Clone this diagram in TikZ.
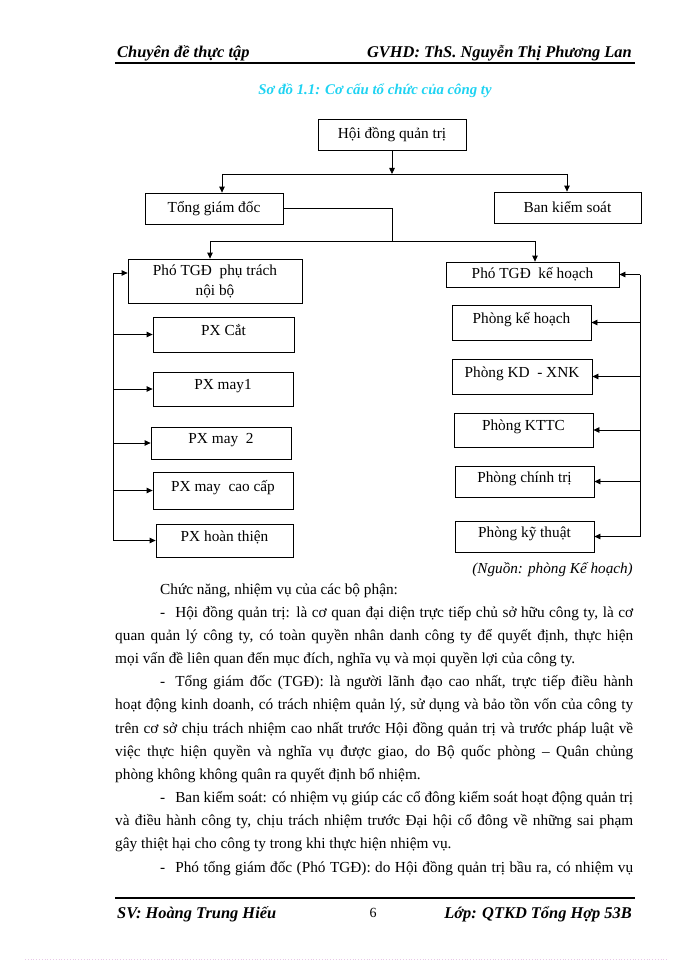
\documentclass[tikz,border=0pt]{standalone}
\usepackage{fontspec}
\setmainfont{Liberation Serif}
\usetikzlibrary{arrows.meta}
\definecolor{CaptionCyan}{HTML}{1FD3F2}
\definecolor{BreakPink}{HTML}{E8C8E8}

\newcommand{\boxfont}{\fontsize{15.3}{20}\selectfont}
\newcommand{\bodyfont}{\fontsize{15.3}{23}\selectfont}

\begin{document}
\begin{tikzpicture}[x=1pt, y=-1pt,
  orgbox/.style={draw=black, line width=0.8pt, inner sep=0pt, align=center, font=\boxfont},
  unitbox/.style={orgbox, text height=9pt, text depth=8pt},
  flow/.style={-{Triangle[length=6pt,width=5.5pt]}, line width=0.8pt},
  wire/.style={line width=0.8pt},
  headtext/.style={font=\fontsize{16.4}{18}\selectfont\bfseries\itshape, inner sep=0pt},
  bodyline/.style={font=\bodyfont, inner sep=0pt, anchor=base west}
]
\fill[white] (0,0) rectangle (700,960);
\useasboundingbox (0,0) rectangle (700,960);

% page header
\node[headtext, anchor=base west] (headL) at (117,58) {Chuyên đề thực tập};
\node[headtext, anchor=base east] (headR) at (632,58) {GVHD: ThS. Nguyễn Thị Phương Lan};
\draw[line width=1.1pt] (115,63) -- (635,63);
\node[font=\fontsize{14.8}{16}\selectfont\bfseries\itshape, text=CaptionCyan, anchor=base] (caption)
  at (375,95) {Sơ đồ 1.1: Cơ cấu tổ chức của công ty};

% top of the chart
\node[orgbox, minimum width=148pt, minimum height=31pt] (hdqt) at (392,134.5) {Hội đồng quản trị};
\node[orgbox, minimum width=138pt, minimum height=31pt] (tgd) at (214,208.5) {Tổng giám đốc};
\node[orgbox, minimum width=147pt, minimum height=31pt] (bks) at (567.5,207.5) {Ban kiểm soát};
\node[orgbox, minimum width=174pt, minimum height=44pt] (phont) at (215,281) {Phó TGĐ\ \ phụ trách\\nội bộ};
\node[orgbox, minimum width=173pt, minimum height=25pt] (phokh) at (532.5,274.5) {Phó TGĐ\ \ kế hoạch};

% workshops
\node[unitbox, minimum width=141pt, minimum height=35pt] (pxcat) at (223.5,334.5) {PX Cắt};
\node[unitbox, minimum width=140pt, minimum height=34pt] (pxmay1) at (223,389) {PX may1};
\node[unitbox, minimum width=140pt, minimum height=32pt] (pxmay2) at (221,443) {PX may\ \ 2};
\node[unitbox, minimum width=140pt, minimum height=37pt] (pxcc) at (223,490.5) {PX may\ \ cao cấp};
\node[unitbox, minimum width=137pt, minimum height=33pt] (pxht) at (224.5,540.5) {PX hoàn thiện};

% departments
\node[unitbox, minimum width=139pt, minimum height=35pt] (pkh) at (521.5,322.5) {Phòng kế hoạch};
\node[unitbox, minimum width=140pt, minimum height=35pt] (pkd) at (522,376.5) {Phòng KD\ \ - XNK};
\node[unitbox, minimum width=139pt, minimum height=34pt] (pkttc) at (523.5,430) {Phòng KTTC};
\node[unitbox, minimum width=139pt, minimum height=31pt] (pct) at (524.5,481.5) {Phòng chính trị};
\node[unitbox, minimum width=139pt, minimum height=31pt] (pkt) at (524.5,536.5) {Phòng kỹ thuật};

% connectors
\coordinate (busA) at (392,174);
\coordinate (busAl) at (222,174);
\coordinate (busAr) at (567,174);
\draw[flow] (hdqt) -- (busA);
\draw[wire] (busAl) -- (busAr);
\draw[flow] (busAl) -- (busAl |- tgd.north);
\draw[flow] (busAr) -- (busAr |- bks.north);

\coordinate (busB) at (392,241);
\coordinate (busBl) at (210,241);
\coordinate (busBr) at (535,241);
\draw[wire] (tgd.east) -| (busB);
\draw[wire] (busBl) -- (busBr);
\draw[flow] (busBl) -- (busBl |- phont.north);
\draw[flow] (busBr) -- (busBr |- phokh.north);

\coordinate (railL) at (113,273);
\coordinate (railLend) at (113,540.5);
\draw[wire] (railL) -- (railLend);
\draw[flow] (railL) -- (railL -| phont.west);
\foreach \b in {pxcat,pxmay1,pxmay2,pxcc,pxht}
  \draw[flow] (railL |- \b.west) -- (\b.west);

\coordinate (railR) at (640,274.5);
\coordinate (railRend) at (640,536.5);
\draw[wire] (railR) -- (railRend);
\foreach \b in {phokh,pkh,pkd,pkttc,pct,pkt}
  \draw[flow] (railR |- \b.east) -- (\b.east);

\node[font=\fontsize{15.2}{18}\selectfont\itshape, inner sep=0pt, anchor=base east] (source)
  at (633,573) {(Nguồn: phòng Kế hoạch)};

% body text
\node[bodyline] (l1) at (160,594) {Chức năng, nhiệm vụ của các bộ phận:};
\node[bodyline] (l2) at (160,617.2) {\makebox[473pt][s]{-\hspace{10pt}Hội đồng quản trị: là cơ quan đại diện trực tiếp chủ sở hữu công ty, là cơ}};
\node[bodyline] (l3) at (115,640.3) {\makebox[518pt][s]{quan quản lý công ty, có toàn quyền nhân danh công ty để quyết định, thực hiện}};
\node[bodyline] (l4) at (115,663.5) {mọi vấn đề liên quan đến mục đích, nghĩa vụ và mọi quyền lợi của công ty.};
\node[bodyline] (l5) at (160,686.7) {\makebox[473pt][s]{-\hspace{10pt}Tổng giám đốc (TGĐ): là người lãnh đạo cao nhất, trực tiếp điều hành}};
\node[bodyline] (l6) at (115,709.8) {\makebox[518pt][s]{hoạt động kinh doanh, có trách nhiệm quản lý, sử dụng và bảo tồn vốn của công ty}};
\node[bodyline] (l7) at (115,733) {\makebox[518pt][s]{trên cơ sở chịu trách nhiệm cao nhất trước Hội đồng quản trị và trước pháp luật về}};
\node[bodyline] (l8) at (115,756.2) {\makebox[518pt][s]{việc thực hiện quyền và nghĩa vụ được giao, do Bộ quốc phòng – Quân chủng}};
\node[bodyline] (l9) at (115,779.3) {phòng không không quân ra quyết định bổ nhiệm.};
\node[bodyline] (l10) at (160,802.5) {\makebox[473pt][s]{-\hspace{10pt}Ban kiểm soát: có nhiệm vụ giúp các cổ đông kiểm soát hoạt động quản trị}};
\node[bodyline] (l11) at (115,825.7) {\makebox[518pt][s]{và điều hành công ty, chịu trách nhiệm trước Đại hội cổ đông về những sai phạm}};
\node[bodyline] (l12) at (115,848.8) {gây thiệt hại cho công ty trong khi thực hiện nhiệm vụ.};
\node[bodyline] (l13) at (160,872) {\makebox[473pt][s]{-\hspace{10pt}Phó tổng giám đốc (Phó TGĐ): do Hội đồng quản trị bầu ra, có nhiệm vụ}};

% page footer
\draw[line width=1.1pt] (115,898) -- (635,898);
\node[headtext, anchor=base west] (footL) at (117,918) {SV: Hoàng Trung Hiếu};
\node[font=\fontsize{14}{16}\selectfont, inner sep=0pt, anchor=base] (pageno) at (373,917) {6};
\node[headtext, anchor=base east] (footR) at (632,918) {Lớp: QTKD Tổng Hợp 53B};
\draw[BreakPink, dotted, line width=0.8pt] (25,959) -- (668,959);

\end{tikzpicture}
\end{document}
